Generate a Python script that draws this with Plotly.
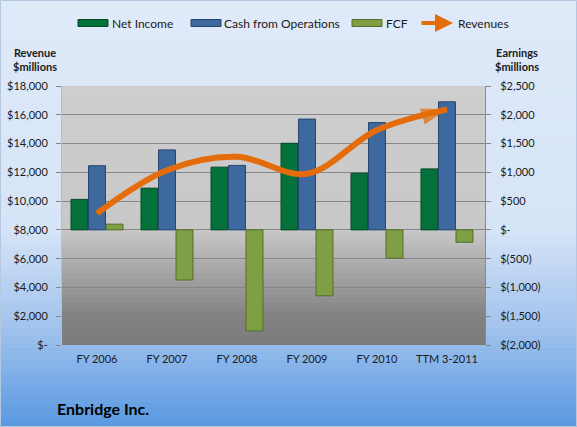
import plotly.graph_objects as go

categories = ["FY 2006", "FY 2007", "FY 2008", "FY 2009", "FY 2010", "TTM 3-2011"]
net_income = [530, 725, 1090, 1505, 985, 1060]
cash_from_ops = [1115, 1390, 1120, 1925, 1865, 2225]
fcf = [100, -870, -1755, -1145, -490, -215]
revenues = [9150, 12150, 13080, 11900, 14940, 16380]

earn_ticks = list(range(-2000, 2501, 500))
rev_ticks = list(range(0, 18001, 2000))


def money(v):
    if v == 0:
        return "$-"
    if v < 0:
        return "$({:,})".format(abs(v))
    return "${:,}".format(v)


W, H = 577, 427
L, R, T, B = 62, 485, 86, 345
PW, PH = R - L, B - T


def px(x):
    return (x - L) / PW


def py(y):
    return (B - y) / PH


def lerp_stops(stops, y):
    for (y0, c0), (y1, c1) in zip(stops, stops[1:]):
        if y0 <= y <= y1:
            t = 0 if y1 == y0 else (y - y0) / (y1 - y0)
            return tuple(round(a + (b - a) * t) for a, b in zip(c0, c1))
    return stops[-1][1]


shapes = []
outer_stops = [(0, (223, 234, 249)), (230, (214, 228, 247)), (320, (165, 197, 238)), (427, (90, 153, 225))]
n = 107
for i in range(n):
    y0 = H * i / n
    y1 = H * (i + 1) / n + 0.6
    c = lerp_stops(outer_stops, (y0 + y1) / 2)
    shapes.append(dict(type="rect", xref="paper", yref="paper", x0=px(0), x1=px(W),
                       y0=py(y1), y1=py(y0), fillcolor="rgb(%d,%d,%d)" % c,
                       line=dict(width=0), layer="below"))

plot_stops = [(T, (206, 206, 206)), (230, (200, 200, 200)), (315, (130, 130, 130)), (B, (124, 124, 124))]
n = 65
for i in range(n):
    y0 = T + PH * i / n
    y1 = T + PH * (i + 1) / n + 0.6
    c = lerp_stops(plot_stops, (y0 + y1) / 2)
    shapes.append(dict(type="rect", xref="paper", yref="paper", x0=0, x1=1,
                       y0=max(0, py(y1)), y1=py(y0), fillcolor="rgb(%d,%d,%d)" % c,
                       line=dict(width=0), layer="below"))

# outer frame
shapes.append(dict(type="rect", xref="paper", yref="paper", x0=px(0.5), x1=px(W - 0.5),
                   y0=py(H - 0.5), y1=py(0.5), line=dict(color="#b4c8e2", width=1),
                   fillcolor="rgba(0,0,0,0)", layer="above"))

font_family = "Lato, 'Open Sans', sans-serif"

bar_specs = [
    ("Net Income", net_income, "#04703a", "#034a26"),
    ("Cash from Operations", cash_from_ops, "#3e699e", "#27466e"),
    ("FCF", fcf, "#7f9f44", "#566d2c"),
]
rev_color = "#e46c0a"

annotations = [
    dict(text="<b>Revenue<br>$millions</b>", x=px(35), y=py(59), xref="paper", yref="paper",
         xanchor="center", yanchor="middle",
         showarrow=False, font=dict(size=11, color="#1a1a1a"), align="center"),
    dict(text="<b>Earnings<br>$millions</b>", x=px(517), y=py(59), xref="paper", yref="paper",
         xanchor="center", yanchor="middle",
         showarrow=False, font=dict(size=11, color="#1a1a1a"), align="center"),
    dict(text="<b>Enbridge Inc.</b>", x=px(55), y=py(408), xref="paper", yref="paper",
         xanchor="left", yanchor="middle", showarrow=False, font=dict(size=16, color="#000000")),
]

# manual legend (one row, as in the reference)
legend_pos = [(78, 110), (191, 222), (352, 384)]
for (name, _, col, edge), (sx, tx) in zip(bar_specs, legend_pos):
    shapes.append(dict(type="rect", xref="paper", yref="paper", x0=px(sx), x1=px(sx + 30),
                       y0=py(26.5), y1=py(19.5), fillcolor=col, line=dict(color=edge, width=1),
                       layer="above"))
    annotations.append(dict(text=name, x=px(tx), y=py(23), xref="paper", yref="paper",
                            xanchor="left", yanchor="middle", showarrow=False,
                            font=dict(size=12, color="#1a1a1a")))
annotations.append(dict(text="", x=px(453), y=py(23), xref="paper", yref="paper",
                        ax=-33, ay=0, showarrow=True, arrowhead=2, arrowsize=0.9,
                        arrowwidth=4, arrowcolor=rev_color))
annotations.append(dict(text="Revenues", x=px(456), y=py(23), xref="paper", yref="paper",
                        xanchor="left", yanchor="middle", showarrow=False,
                        font=dict(size=12, color="#1a1a1a")))

fig = go.Figure()
for name, vals, col, edge in bar_specs:
    fig.add_trace(go.Bar(name=name, x=categories, y=vals, yaxis="y",
                         marker=dict(color=col, line=dict(color=edge, width=1))))

fig.add_trace(go.Scatter(name="Revenues", x=categories, y=revenues, yaxis="y2",
                         mode="lines", line=dict(color=rev_color, width=6, shape="spline", smoothing=1.0)))
fig.add_trace(go.Scatter(name="Revenues", x=categories[-2:], y=revenues[-2:], yaxis="y2",
                         mode="markers", marker=dict(symbol=["circle", "arrow"], size=[0, 27],
                                                     angleref="previous", color=rev_color,
                                                     line=dict(width=0)),
                         hoverinfo="skip"))

fig.update_layout(
    width=W, height=H,
    margin=dict(l=L, r=W - R, t=T, b=H - B, pad=0),
    paper_bgcolor="#dde9f8",
    plot_bgcolor="rgba(0,0,0,0)",
    font=dict(family=font_family, size=11, color="#1a1a1a"),
    barmode="group", bargap=0.25, bargroupgap=0.03,
    shapes=shapes,
    annotations=annotations,
    showlegend=False,
    xaxis=dict(showgrid=False, ticks="", showline=False, zeroline=False,
               tickfont=dict(size=11), ticklabelstandoff=6, automargin=False),
    yaxis=dict(side="right", range=[-2000, 2500], tickvals=earn_ticks,
               ticktext=[money(v) for v in earn_ticks], showgrid=True, gridcolor="#878787",
               gridwidth=1, zeroline=False, ticks="outside", ticklen=5, tickcolor="#878787",
               showline=True, linecolor="#8a8a8a", ticklabelstandoff=7, automargin=False),
    yaxis2=dict(side="left", overlaying="y", range=[0, 18000], tickvals=rev_ticks,
                ticktext=[money(v) for v in rev_ticks], showgrid=False, zeroline=False,
                ticks="outside", ticklen=5, tickcolor="#878787", showline=True,
                linecolor="#bdbdbd", ticklabelstandoff=6, automargin=False),
)

fig.write_html("out.html")
